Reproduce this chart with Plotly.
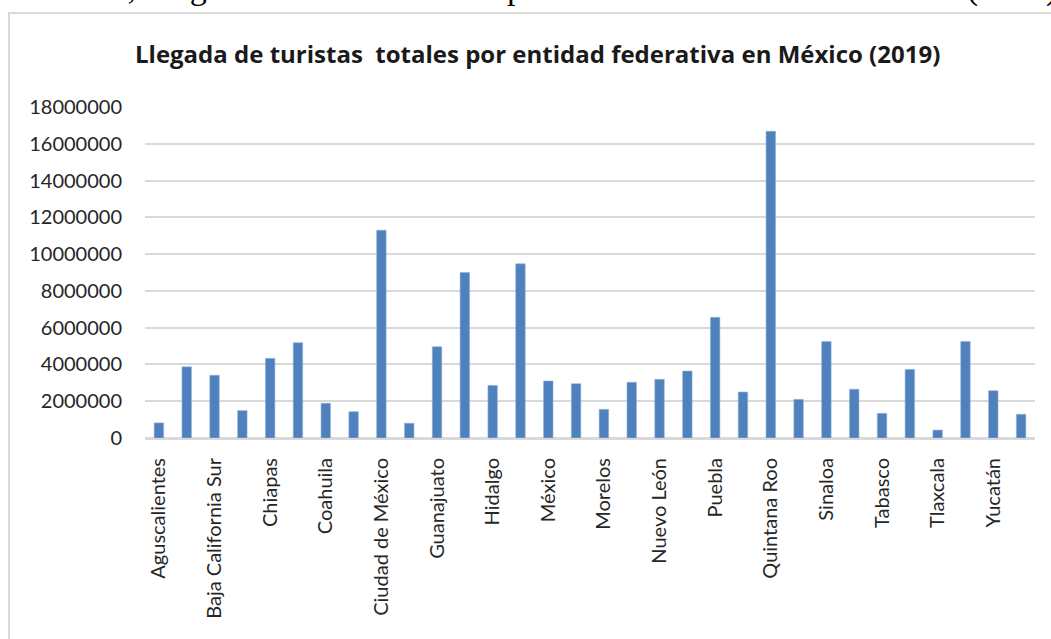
import plotly.graph_objects as go

estados = [
    "Aguscalientes", "Baja California", "Baja California Sur", "Campeche",
    "Chiapas", "Chihuahua", "Coahuila", "Colima", "Ciudad de México",
    "Durango", "Guanajuato", "Guerrero", "Hidalgo", "Jalisco", "México",
    "Michoacán", "Morelos", "Nayarit", "Nuevo León", "Oaxaca", "Puebla",
    "Querétaro", "Quintana Roo", "San Luis Potosí", "Sinaloa", "Sonora",
    "Tabasco", "Tamaulipas", "Tlaxcala", "Veracruz", "Yucatán", "Zacatecas",
]
turistas = [
    820000, 3870000, 3410000, 1490000, 4330000, 5180000, 1890000, 1430000,
    11300000, 800000, 4960000, 9000000, 2860000, 9470000, 3100000, 2950000,
    1560000, 3030000, 3190000, 3640000, 6560000, 2500000, 16680000, 2100000,
    5250000, 2650000, 1340000, 3730000, 430000, 5250000, 2570000, 1290000,
]
etiquetas_visibles = estados[::2]
y_ticks = list(range(0, 18000001, 2000000))

caption = "Gráfica 2, Llegada de turistas totales por entidad federativa en México (2019)"
titulo = "Llegada de turistas\u00a0 totales por entidad federativa en México (2019)"

W, H = 1051, 639
L, R, T, B = 145, 16, 107, 201
pw, ph = W - L - R, H - T - B

def px_x(px):
    return (px - L) / pw

def px_y(py):
    return (H - B - py) / ph

fig = go.Figure(go.Bar(
    x=estados, y=turistas,
    marker=dict(color="#4f81bd", line=dict(color="#8eb0d8", width=0.6)),
))

fig.update_layout(
    width=W, height=H,
    margin=dict(l=L, r=R, t=T, b=B, autoexpand=False),
    paper_bgcolor="white", plot_bgcolor="white",
    bargap=0.66, showlegend=False,
    font=dict(family="Lato", color="#262626"),
    xaxis=dict(
        type="category", tickmode="array", tickvals=etiquetas_visibles,
        ticktext=etiquetas_visibles, tickangle=-90,
        tickfont=dict(family="Lato", size=20, color="#262626"),
        showgrid=False, showline=True, linecolor="#d9d9d9", linewidth=2,
        ticks="", ticklabelstandoff=10,
    ),
    yaxis=dict(
        range=[0, 18000000], tickmode="array", tickvals=y_ticks,
        ticktext=[str(v) for v in y_ticks],
        tickfont=dict(family="Lato", size=20, color="#262626"),
        showgrid=True, gridcolor="#d9d9d9", gridwidth=2,
        zeroline=True, zerolinecolor="#d9d9d9", zerolinewidth=2,
        showline=False, ticks="", ticklabelstandoff=22,
    ),
    shapes=[dict(
        type="rect", xref="paper", yref="paper",
        x0=px_x(9), x1=px_x(1070), y0=px_y(700), y1=px_y(13),
        line=dict(color="#d9d9d9", width=2), fillcolor="rgba(0,0,0,0)",
        layer="below",
    )],
    annotations=[
        dict(text=titulo, xref="paper", yref="paper",
             x=px_x(537), y=px_y(54), xanchor="center", yanchor="middle",
             showarrow=False,
             font=dict(family="Open Sans", size=24, color="#1a1a1a", weight="bold")),
        dict(text=caption, xref="paper", yref="paper",
             x=px_x(-2), y=px_y(9), xanchor="left", yanchor="bottom",
             showarrow=False,
             font=dict(family="Liberation Serif", size=34, color="#000000")),
    ],
)

fig.write_html("out.html", config={"displayModeBar": False},
               post_script="document.body.style.margin='0px';")
